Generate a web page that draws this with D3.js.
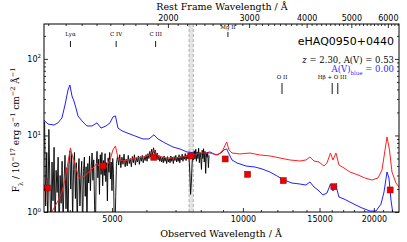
<!DOCTYPE html>
<html><head><meta charset="utf-8">
<script src="https://cdn.jsdelivr.net/npm/d3@7"></script>
<style>body{margin:0;background:#fff}svg{display:block}</style>
</head><body>
<svg id="c" width="407" height="242"></svg>
<script>
// ---------------- data ----------------
const objectName = "eHAQ0950+0440";
const redshift = 2.30;
const avRed = 0.53;
const avBlue = 0.00;

const xTickValues = [5000, 10000, 15000, 20000];
const topTickValues = [2000, 3000, 4000, 5000, 6000];
const yTickValues = [1, 10, 100];

// unreddened template (A(V)=0)
const blueWave = [3489,3563,3678,3756,3836,3899,3962,4002,4046,4088,4132,4176,4265,4380,4497,4618,4717,4844,4947,5027,5093,5161,5272,5413,5648,5891,6081,6245,6378,6619,6905,7166,7436,7758,8050,8399,8671,8906,9046,9175,9290,9439,9693,10162,10661,11063,11536,11974,12431,12967,13524,13963,14259,14567,14878,15278,15604,15895,16106,16364,16627,17073,17624,18193,18778,19594,20227,20771,21104,21441,21664,21896,22131,22846];
const blueFlux = [15.9,14.1,13.7,14.6,16.9,25.0,39.3,45.7,32.8,28.2,22.9,18.0,15.5,13.3,13.3,14.6,12.5,13.3,14.6,17.5,18.0,12.5,11.5,10.8,9.85,9.0,9.0,10.2,9.0,7.98,7.07,6.66,6.09,5.91,5.73,6.09,5.56,5.91,6.47,6.66,5.73,4.78,4.37,3.99,3.87,3.65,3.33,2.96,2.62,2.39,2.32,2.25,2.47,2.12,1.94,1.67,1.77,2.32,1.88,2.19,1.57,1.48,1.35,1.23,1.13,1.03,1.03,1.27,1.83,3.33,2.78,1.43,0.94,0.68];

// reddened template (A(V)=0.53)
const redWave = [3602,3678,3756,3836,3899,3962,4014,4046,4088,4132,4198,4289,4403,4522,4618,4717,4844,4947,5027,5093,5161,5272,5442,5678,5891,6081,6245,6378,6655,6980,7282,7636,7966,8399,8763,8995,9175,9290,9439,9843,10378,10941,11536,12163,12828,13524,13963,14259,14567,14954,15356,15604,15895,16106,16364,16627,17073,17624,18390,19078,19800,20438,20880,21216,21441,21723,22012,22487,22846];
const redFlux = [0.91,1.13,1.39,1.83,2.62,4.50,6.87,5.56,4.78,3.76,2.78,2.87,3.24,3.76,4.37,3.65,3.87,4.78,6.47,7.29,5.08,4.64,4.78,5.08,5.23,5.56,6.47,5.40,5.08,5.08,5.23,5.56,5.90,5.90,5.56,6.47,8.22,6.47,5.90,5.73,5.90,5.56,5.40,5.08,4.78,4.64,4.78,5.23,4.64,4.50,3.99,4.37,5.90,4.78,5.90,4.12,3.76,3.33,3.05,2.78,2.62,2.78,3.54,6.47,9.56,6.47,3.33,2.39,2.12];

// observed spectrum
const specWave = [3500,3520,3540,3560,3580,3600,3620,3640,3660,3680,3700,3720,3740,3760,3780,3800,3820,3840,3860,3880,3900,3920,3940,3960,3980,4000,4020,4040,4060,4080,4100,4120,4140,4160,4180,4200,4220,4240,4260,4280,4300,4320,4340,4360,4380,4400,4420,4440,4460,4480,4500,4520,4540,4560,4580,4600,4620,4640,4660,4680,4700,4720,4740,4760,4780,4800,4820,4840,4860,4880,4900,4920,4940,4960,4980,5000,5020,5040,5060,5080,5100,5120,5150,5180,5210,5240,5270,5300,5330,5360,5390,5420,5450,5480,5510,5540,5570,5600,5630,5660,5690,5720,5750,5780,5810,5840,5870,5900,5930,5960,5990,6020,6050,6080,6110,6140,6170,6200,6230,6260,6290,6320,6350,6380,6410,6440,6470,6500,6530,6560,6590,6620,6650,6680,6710,6740,6770,6800,6830,6860,6890,6920,6950,6980,7010,7040,7070,7100,7130,7160,7190,7220,7250,7280,7310,7340,7370,7400,7430,7460,7490,7520,7550,7580,7610,7640,7670,7700,7730,7760,7790,7820,7850,7880,7910,7940,7970,8000,8030,8060,8090,8120,8150,8180,8210,8240,8270,8300,8330,8360];
const specFlux = [15,1.2,6,0.6,12,2.2,0.5,4.5,1.4,7,0.6,3.5,1.8,5.2,0.5,3.0,1.3,4.6,0.7,2.6,5.5,1.1,3.8,0.5,4.2,6.3,2.0,5.8,0.8,3.6,6.0,1.5,4.4,0.6,3.2,5.0,1.2,2.8,4.6,0.5,3.4,5.2,1.6,3.9,0.7,4.3,2.4,5.4,1.9,3.7,5.9,2.6,4.8,1.2,0.5,4.0,6.2,2.8,4.9,1.7,5.6,3.1,6.0,2.2,4.7,3.0,5.8,2.5,4.4,1.4,5.1,3.3,6.0,2.7,4.5,1.9,5.0,3.2,0.8,0.5,1.6,4.3,5.4,4.1,5.6,3.8,5.2,4.2,5.7,3.9,4.9,4.0,5.5,4.3,5.0,3.9,5.3,4.4,5.6,4.1,5.1,4.5,5.4,4.2,5.3,4.6,5.5,4.4,5.2,4.7,5.6,4.6,5.8,5.0,6.2,5.2,6.6,5.5,6.9,5.8,6.4,5.1,5.9,4.8,5.5,4.6,5.3,4.5,5.2,4.4,5.4,4.6,5.1,4.3,5.3,4.5,5.0,4.4,5.4,4.6,5.2,4.3,5.3,4.7,5.5,4.5,5.2,4.6,5.6,4.4,5.3,4.8,5.7,4.6,5.4,4.9,5.8,4.7,5.5,5.0,5.9,4.9,3.2,1.7,2.4,4.2,5.6,4.8,6.3,4.9,6.6,4.6,6.1,5.0,6.8,4.4,6.0,5.1,3.6,6.4,5.0,6.7,4.5,6.2,3.2,5.8,5.2,6.0,3.8,5.5];

// photometry
const photWave = [3551, 4770, 6238, 7592, 9103, 10250, 12380, 16180, 21800];
const photFlux = [2.06, 4.00, 5.19, 5.40, 4.93, 3.11, 2.57, 2.14, 1.94];
const photLo   = [1.38, 3.85, 5.10, 5.30, 4.85, 3.05, 2.52, 2.10, 1.90];
const photHi   = [2.78, 4.15, 5.28, 5.50, 5.01, 3.17, 2.62, 2.18, 1.98];

// telluric band (observed Å)
const telluric = [7520, 7690];

// emission lines (rest Å)
const lineNames = ["Lyα", "C IV", "C III", "Mg II", "O II", "Hβ + O III"];
const lineRest = [[1216], [1549], [1909], [2799], [3727], [4861, 5007]];

// ---------------- drawing ----------------
const svg = d3.select("#c");
const L = 44, R = 399, T = 24, B = 212;
const x = d3.scaleLog().domain([3489, 22846]).range([L, R]);
const xTop = d3.scaleLog().domain([1077, 6344]).range([L, R]);
const y = d3.scaleLog().domain([1, 286]).range([B, T]);

const serif = "'DejaVu Serif', 'Liberation Serif', serif";
const sans = "'DejaVu Sans', sans-serif";

svg.append("defs").append("clipPath").attr("id", "clip")
  .append("rect").attr("x", L).attr("y", T).attr("width", R - L).attr("height", B - T);
const plot = svg.append("g").attr("clip-path", "url(#clip)");

// telluric band
plot.append("rect").attr("x", x(telluric[0])).attr("y", T)
  .attr("width", x(telluric[1]) - x(telluric[0])).attr("height", B - T)
  .attr("fill", "#e4e4e4");
telluric.forEach(w => plot.append("line").attr("x1", x(w)).attr("x2", x(w))
  .attr("y1", T).attr("y2", B).attr("stroke", "#b0b0b0").attr("stroke-width", 1)
  .attr("stroke-dasharray", "3,2"));

const line = d3.line().x(d => x(d[0])).y(d => y(Math.max(d[1], 0.3)));
const zip = (a, b) => a.map((v, i) => [v, b[i]]);

plot.append("path").datum(zip(blueWave, blueFlux)).attr("d", line)
  .attr("fill", "none").attr("stroke", "#1f1fff").attr("stroke-width", 1);
plot.append("path").datum(zip(specWave, specFlux)).attr("d", line)
  .attr("fill", "none").attr("stroke", "#000").attr("stroke-width", 0.9);
plot.append("path").datum(zip(redWave, redFlux)).attr("d", line)
  .attr("fill", "none").attr("stroke", "#ff2020").attr("stroke-width", 1);

// photometry
photWave.forEach((w, i) => {
  plot.append("line").attr("x1", x(w)).attr("x2", x(w))
    .attr("y1", y(photLo[i])).attr("y2", y(photHi[i]))
    .attr("stroke", "#e00000").attr("stroke-width", 1);
  plot.append("rect").attr("x", x(w) - 3).attr("y", y(photFlux[i]) - 3)
    .attr("width", 6).attr("height", 6).attr("fill", "#ee0000")
    .attr("stroke", "#900").attr("stroke-width", 0.5);
});

// emission line markers
const labelRows = [[36, 41, 47], [36, 41, 47], [36, 41, 47], [29, 32, 37], [79, 83, 94], [79, 83, 94]];
lineNames.forEach((name, i) => {
  const ws = lineRest[i].map(r => r * (1 + redshift));
  const [ty, m1, m2] = labelRows[i];
  svg.append("text").attr("x", x(ws[0])).attr("y", ty).attr("text-anchor", "middle")
    .attr("font-family", serif).attr("font-size", 5.5).text(name);
  ws.forEach(w => svg.append("line").attr("x1", x(w)).attr("x2", x(w))
    .attr("y1", m1).attr("y2", m2).attr("stroke", "#000").attr("stroke-width", 0.9));
});

// axes
const axG = svg.append("g");
function styleAxis(g) {
  g.select(".domain").remove();
  g.selectAll("line").attr("stroke", "#000").attr("stroke-width", 0.8);
  g.selectAll("text").attr("font-family", sans).attr("font-size", 8).attr("fill", "#000");
}
const minorBottom = d3.range(4000, 23000, 1000).filter(v => !xTickValues.includes(v));
axG.append("g").attr("transform", `translate(0,${B})`)
  .call(d3.axisBottom(x).tickValues(xTickValues).tickFormat(d3.format("d")).tickSize(-4).tickPadding(4))
  .call(styleAxis);
axG.append("g").attr("transform", `translate(0,${B})`)
  .call(d3.axisBottom(x).tickValues(minorBottom).tickFormat("").tickSize(-2)).call(styleAxis);

const minorTop = d3.range(1100, 6400, 100).filter(v => v % 1000 !== 0);
axG.append("g").attr("transform", `translate(0,${T})`)
  .call(d3.axisTop(xTop).tickValues(topTickValues).tickFormat(d3.format("d")).tickSize(-4).tickPadding(3))
  .call(styleAxis);
axG.append("g").attr("transform", `translate(0,${T})`)
  .call(d3.axisTop(xTop).tickValues(minorTop).tickFormat("").tickSize(-2)).call(styleAxis);

const minorY = [];
[1, 10, 100].forEach(d => { for (let k = 2; k <= 9; k++) if (d * k < 286) minorY.push(d * k); });
[[L, d3.axisLeft], [R, d3.axisRight]].forEach(([pos, ax]) => {
  axG.append("g").attr("transform", `translate(${pos},0)`)
    .call(ax(y).tickValues(yTickValues).tickFormat("").tickSize(-4)).call(styleAxis);
  axG.append("g").attr("transform", `translate(${pos},0)`)
    .call(ax(y).tickValues(minorY).tickFormat("").tickSize(-2)).call(styleAxis);
});
yTickValues.forEach(v => {
  const t = svg.append("text").attr("x", 41).attr("y", y(v) + 3).attr("text-anchor", "end")
    .attr("font-family", sans).attr("font-size", 8).text("10");
  t.append("tspan").attr("font-size", 5.5).attr("dy", -3.5).text(Math.round(Math.log10(v)));
});

svg.append("rect").attr("x", L).attr("y", T).attr("width", R - L).attr("height", B - T)
  .attr("fill", "none").attr("stroke", "#000").attr("stroke-width", 1);

// axis titles
svg.append("text").attr("x", 221).attr("y", 237).attr("text-anchor", "middle")
  .attr("font-family", serif).attr("font-size", 9.5).text("Observed Wavelength / Å");
svg.append("text").attr("x", 222).attr("y", 10).attr("text-anchor", "middle")
  .attr("font-family", serif).attr("font-size", 9.5).text("Rest Frame Wavelength / Å");

const yl = svg.append("text").attr("transform", "translate(19,130) rotate(-90)")
  .attr("text-anchor", "middle").attr("font-family", serif).attr("font-size", 9);
yl.append("tspan").text("F");
yl.append("tspan").attr("font-size", 6.5).attr("baseline-shift", "sub").text("λ");
yl.append("tspan").text(" / 10");
yl.append("tspan").attr("font-size", 6.5).attr("baseline-shift", "super").text("−17");
yl.append("tspan").text(" erg s");
yl.append("tspan").attr("font-size", 6.5).attr("baseline-shift", "super").text("−1");
yl.append("tspan").text(" cm");
yl.append("tspan").attr("font-size", 6.5).attr("baseline-shift", "super").text("−2");
yl.append("tspan").text(" Å");
yl.append("tspan").attr("font-size", 6.5).attr("baseline-shift", "super").text("−1");

// annotations
svg.append("text").attr("x", 394).attr("y", 45).attr("text-anchor", "end")
  .attr("font-family", sans).attr("font-size", 11).text(objectName);
const t2 = svg.append("text").attr("x", 394).attr("y", 63).attr("text-anchor", "end")
  .attr("font-family", serif).attr("font-size", 8.5);
t2.append("tspan").attr("font-style", "italic").text("z");
t2.append("tspan").text(` = ${redshift.toFixed(2)}, A(V) = ${avRed.toFixed(2)}`);
const t3 = svg.append("text").attr("x", 394).attr("y", 71.5).attr("text-anchor", "end")
  .attr("font-family", serif).attr("font-size", 8.5).attr("fill", "#1f1fff");
t3.append("tspan").text("A(V)");
t3.append("tspan").attr("font-size", 5.5).attr("baseline-shift", "sub").text("blue");
t3.append("tspan").text(` = ${avBlue.toFixed(2)}`);
</script>
</body></html>
